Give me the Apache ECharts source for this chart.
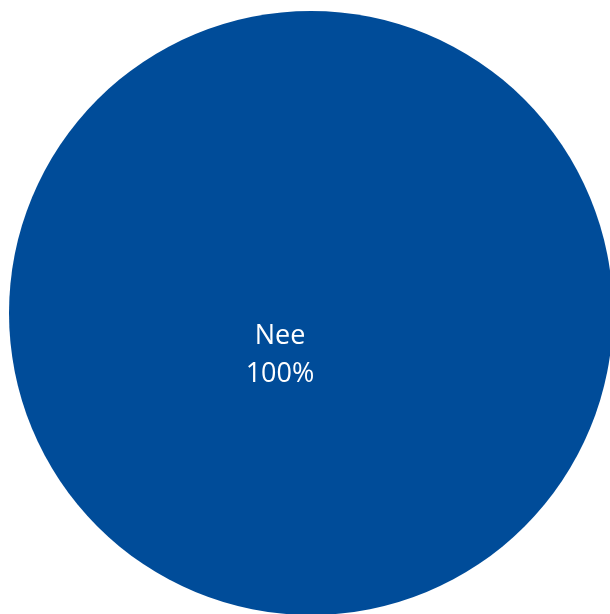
<!DOCTYPE html>
<html><head><meta charset="utf-8">
<script src="https://cdn.jsdelivr.net/npm/echarts@6/dist/echarts.min.js"></script>
<style>html,body{margin:0;padding:0;background:#fff}#c{width:610px;height:614px}</style>
</head><body><div id="c"></div>
<script>
const categories = ["Nee"];
const values = [100];
const colors = ["#004C99"];
const chart = echarts.init(document.getElementById('c'));
chart.setOption({
  animation: false,
  series: [{
    type: 'pie',
    center: [311, 313],
    radius: 302,
    startAngle: 90,
    data: categories.map((c, i) => ({ name: c, value: values[i], itemStyle: { color: colors[i] } })),
    label: {
      show: true,
      position: 'center',
      formatter: p => p.name + '\n' + Math.round(p.percent) + '%',
      color: '#ffffff',
      fontFamily: 'Open Sans',
      fontSize: 27,
      lineHeight: 38
    },
    labelLayout: { dx: -31, dy: 42 },
    labelLine: { show: false },
    emphasis: { disabled: true }
  }]
});
</script></body></html>
